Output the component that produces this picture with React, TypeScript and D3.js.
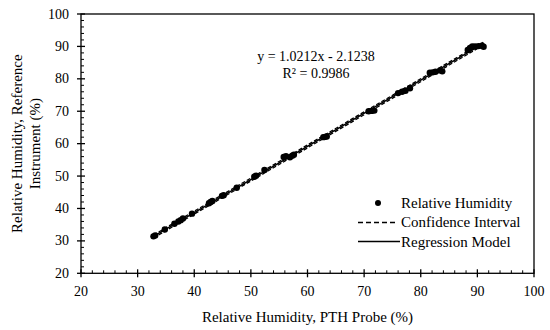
import React from 'react';
import * as d3 from 'd3';

// measured points: PTH probe (x) vs reference instrument (y)
const probeRH = [
  32.8, 33.1, 34.8, 36.5, 37.2, 37.6, 38.0, 39.6, 42.6, 42.9, 43.2, 44.9, 45.2, 47.5,
  50.6, 50.9, 52.4, 55.8, 56.2, 56.9, 57.3, 57.6, 62.8, 63.1, 63.4, 70.8, 71.3, 71.8,
  76.0, 76.7, 77.3, 78.1, 81.6, 82.1, 82.6, 83.4, 83.8, 88.3, 88.7, 89.1, 89.6, 90.2, 90.8, 91.1,
];
const referenceRH = [
  31.4, 31.7, 33.5, 35.3, 36.0, 36.4, 36.9, 38.4, 41.6, 42.0, 42.3, 43.9, 44.1, 46.4,
  49.8, 50.1, 51.9, 55.9, 56.1, 55.8, 56.3, 56.6, 62.0, 62.1, 62.2, 70.0, 70.1, 70.2,
  75.6, 76.0, 76.3, 77.1, 81.9, 82.0, 82.2, 82.6, 82.3, 88.9, 89.5, 90.0, 90.0, 90.1, 90.2, 89.9,
];
const slope = 1.0212;
const intercept = -2.1238;
const fitRange = [32.8, 91.1];
const ciOffset = 0.45;
const majorTicks = [20, 30, 40, 50, 60, 70, 80, 90, 100];
const minorTicks = d3.range(20, 101, 2).filter((v) => v % 10 !== 0);
const legendItems = ['Relative Humidity', 'Confidence Interval', 'Regression Model'];

const W = 550;
const H = 330;
const m = { left: 81, right: 16, top: 14, bottom: 56.7 };
const FONT = '"Liberation Serif", "DejaVu Serif", serif';

export default function App() {
  const x = d3.scaleLinear().domain([20, 100]).range([m.left, W - m.right]);
  const y = d3.scaleLinear().domain([20, 100]).range([H - m.bottom, m.top]);
  const line = d3
    .line<number>()
    .x((d) => x(d))
    .y((d) => y(slope * d + intercept));
  const lineOff = (off: number) =>
    d3
      .line<number>()
      .x((d) => x(d))
      .y((d) => y(slope * d + intercept + off));

  const x0 = x(20);
  const y0 = y(20);

  return (
    <svg
      width={W}
      height={H}
      style={{ position: 'absolute', left: 0, top: 0, background: '#fff' }}
      fontFamily={FONT}
    >
      {/* frame */}
      <rect x={x(20)} y={y(100)} width={x(100) - x(20)} height={y(20) - y(100)} fill="none" stroke="#000" strokeWidth={1.3} />

      {/* x ticks */}
      {majorTicks.map((t) => (
        <g key={'xt' + t}>
          <line x1={x(t)} x2={x(t)} y1={y0 - 4} y2={y0 + 4} stroke="#000" strokeWidth={1.3} />
          <text x={x(t)} y={y0 + 23} textAnchor="middle" fontSize={14} fill="#000">
            {t}
          </text>
        </g>
      ))}
      {minorTicks.map((t) => (
        <line key={'xm' + t} x1={x(t)} x2={x(t)} y1={y0 - 3} y2={y0} stroke="#000" strokeWidth={1} />
      ))}

      {/* y ticks */}
      {majorTicks.map((t) => (
        <g key={'yt' + t}>
          <line x1={x0 - 4} x2={x0 + 4} y1={y(t)} y2={y(t)} stroke="#000" strokeWidth={1.3} />
          <text x={x0 - 12} y={y(t) + 4.5} textAnchor="end" fontSize={14} fill="#000">
            {t}
          </text>
        </g>
      ))}
      {minorTicks.map((t) => (
        <line key={'ym' + t} x1={x0} x2={x0 + 3} y1={y(t)} y2={y(t)} stroke="#000" strokeWidth={1} />
      ))}

      {/* points */}
      {probeRH.map((v, i) => (
        <circle key={'p' + i} cx={x(v)} cy={y(referenceRH[i])} r={3.2} fill="#000" />
      ))}

      {/* confidence interval + regression */}
      <path d={lineOff(ciOffset)(fitRange) ?? ''} fill="none" stroke="#000" strokeWidth={1.3} strokeDasharray="4,2" />
      <path d={lineOff(-ciOffset)(fitRange) ?? ''} fill="none" stroke="#000" strokeWidth={1.3} strokeDasharray="4,2" />
      <path d={line(fitRange) ?? ''} fill="none" stroke="#000" strokeWidth={1.5} />

      {/* equation */}
      <text x={316} y={61} textAnchor="middle" fontSize={14} fill="#000">
        y = 1.0212x - 2.1238
      </text>
      <text x={316} y={78} textAnchor="middle" fontSize={14} fill="#000">
        R² = 0.9986
      </text>

      {/* legend */}
      <g fontSize={15} fill="#000">
        <circle cx={378} cy={203} r={3} fill="#000" />
        <line x1={358} x2={396} y1={222.5} y2={222.5} stroke="#000" strokeWidth={1.5} strokeDasharray="5,3" />
        <line x1={358} x2={400} y1={241.5} y2={241.5} stroke="#000" strokeWidth={1.5} />
        {legendItems.map((s, i) => (
          <text key={s} x={401} y={208 + i * 19.3}>
            {s}
          </text>
        ))}
      </g>

      {/* axis titles */}
      <text x={(x(20) + x(100)) / 2} y={322} textAnchor="middle" fontSize={15} fill="#000">
        Relative Humidity, PTH Probe (%)
      </text>
      <g transform={`translate(0, ${(y(20) + y(100)) / 2}) rotate(-90)`}>
        <text x={0} y={22} textAnchor="middle" fontSize={15} fill="#000">
          Relative Humidity, Reference
        </text>
        <text x={0} y={40} textAnchor="middle" fontSize={15} fill="#000">
          Instrument (%)
        </text>
      </g>
    </svg>
  );
}
